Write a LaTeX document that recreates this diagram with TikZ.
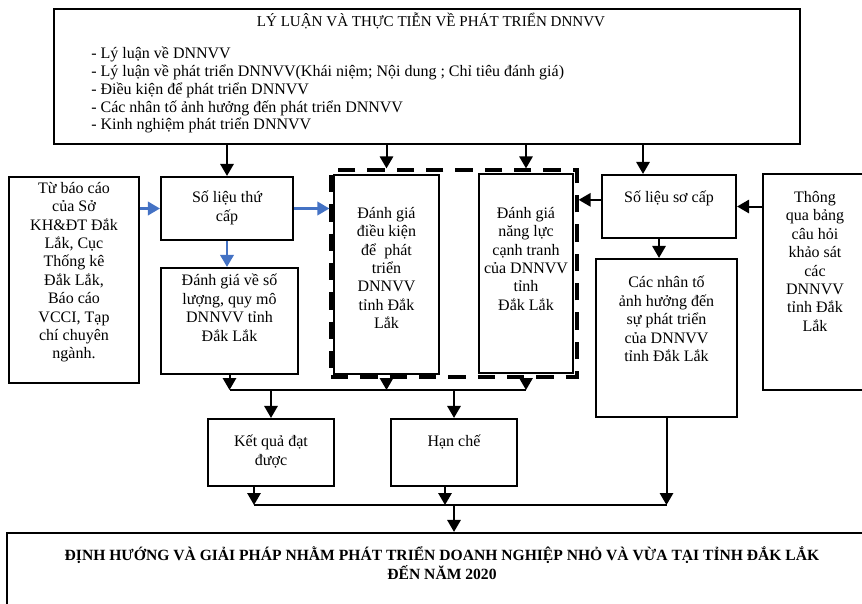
\documentclass[tikz,border=0pt]{standalone}
\usepackage{fontspec}
\setmainfont{Liberation Serif}
\usepackage{xcolor}
\usetikzlibrary{arrows.meta, positioning}
\definecolor{xanh}{RGB}{68,114,196}

\begin{document}
\begin{tikzpicture}[x=0.75pt, y=-0.75pt, >={Triangle[width=10pt,length=9pt]},
    hop/.style={draw, line width=1.6pt, inner sep=0pt},
    chu/.style={inner sep=0pt, align=center, font=\fontsize{12}{13.8}\selectfont},
    noi/.style={line width=1.5pt},
    noixanh/.style={line width=1.9pt, draw=xanh}]
    \useasboundingbox (0,0) rectangle (862,603);
    \clip (0,0) rectangle (862,603);

    % Khung lý luận
    \node[hop, minimum width=559.5pt, minimum height=101.25pt] (lyluan) at (427,76.5) {};
    \node[chu, anchor=north, font=\fontsize{11.3}{13}\selectfont] (lyluan-t) at (431,13) {LÝ LUẬN VÀ THỰC TIỄN VỀ PHÁT TRIỂN DNNVV};
    \node[chu, anchor=north west, align=left, font=\fontsize{12}{13.3}\selectfont] (lyluan-ds) at (91,47)
        {- Lý luận về DNNVV\\
         - Lý luận về phát triển DNNVV(Khái niệm; Nội dung ; Chỉ tiêu đánh giá)\\
         - Điều kiện để phát triển DNNVV\\
         - Các nhân tố ảnh hưởng đến phát triển DNNVV\\
         - Kinh nghiệm phát triển DNNVV};

    % Hàng giữa
    \node[hop, dashed, dash pattern=on 13pt off 9pt, line width=2.4pt,
        minimum width=184.5pt, minimum height=155.25pt] (khung) at (454,273.5) {};
    \node[hop, minimum width=97.5pt, minimum height=154.5pt] (baocao) at (74,280) {};
    \node[chu, anchor=north] (baocao-t) at (74,182) {Từ báo cáo\\của Sở\\KH\&ĐT Đắk\\Lắk, Cục\\Thống kê\\Đắk Lắk,\\Báo cáo\\VCCI, Tạp\\chí chuyên\\ngành.};
    \node[hop, minimum width=99pt, minimum height=47.25pt] (sltc) at (227,208.5) {};
    \node[chu, anchor=north] (sltc-t) at (227,191) {Số liệu thứ\\cấp};
    \node[hop, minimum width=102.75pt, minimum height=79.5pt] (dgsl) at (229.5,321) {};
    \node[chu, anchor=north] (dgsl-t) at (229.5,274) {Đánh giá về số\\lượng, quy mô\\DNNVV tỉnh\\Đắk Lắk};
    \node[hop, minimum width=78.75pt, minimum height=149.25pt] (dgdk) at (386.5,274.5) {};
    \node[chu, anchor=north] (dgdk-t) at (386.5,207) {Đánh giá\\điều kiện\\để\ \ phát\\triển\\DNNVV\\tỉnh Đắk\\Lắk};
    \node[hop, minimum width=70.5pt, minimum height=149.25pt] (dgnl) at (526,273.5) {};
    \node[chu, anchor=north] (dgnl-t) at (526,207) {Đánh giá\\năng lực\\cạnh tranh\\của DNNVV\\tỉnh\\Đắk Lắk};
    \node[hop, minimum width=100.5pt, minimum height=47.25pt] (slsc) at (669,206.5) {};
    \node[chu, anchor=north] (slsc-t) at (669,191) {Số liệu sơ cấp};
    \node[hop, minimum width=105.75pt, minimum height=118.5pt] (nhanto) at (666.5,338) {};
    \node[chu, anchor=north] (nhanto-t) at (666.5,276) {Các nhân tố\\ảnh hưởng đến\\sự phát triển\\của DNNVV\\tỉnh Đắk Lắk};
    \node[hop, minimum width=78pt, minimum height=162pt] (thongqua) at (815,282) {};
    \node[chu, anchor=north] (thongqua-t) at (815,191) {Thông\\qua bảng\\câu hỏi\\khảo sát\\các\\DNNVV\\tỉnh Đắk\\Lắk};

    % Kết quả, hạn chế
    \node[hop, minimum width=94.5pt, minimum height=50.25pt] (kq) at (271,452.5) {};
    \node[chu, anchor=north] (kq-t) at (271,435) {Kết quả đạt\\được};
    \node[hop, minimum width=94.5pt, minimum height=50.25pt] (hanche) at (454,452.5) {};
    \node[chu, anchor=north] (hanche-t) at (454,435) {Hạn chế};

    % Định hướng
    \node[hop, minimum width=669.75pt, minimum height=80.25pt] (dinhhuong) at (453.5,586.5) {};
    \node[chu, anchor=north, font=\bfseries\fontsize{11.7}{14.25}\selectfont] (dinhhuong-t) at (442,546)
        {ĐỊNH HƯỚNG VÀ GIẢI PHÁP NHẰM PHÁT TRIỂN DOANH NGHIỆP NHỎ VÀ VỪA TẠI TỈNH ĐẮK LẮK\\ĐẾN NĂM 2020};

    \coordinate (r1) at (0,390);
    \coordinate (r2) at (0,505);

    % Mũi tên từ khung lý luận
    \draw[noi, ->] (lyluan.south -| sltc.north) -- (sltc.north);
    \draw[noi, ->] (lyluan.south -| dgdk.north) -- (khung.north -| dgdk.north);
    \draw[noi, ->] (lyluan.south -| dgnl.north) -- (khung.north -| dgnl.north);
    \draw[noi, ->] ([xshift=-19.5pt]lyluan.south -| slsc.north) -- ([xshift=-19.5pt]slsc.north);

    % Số liệu thứ cấp (xanh)
    \draw[noixanh, ->] (baocao.east |- sltc.west) -- (sltc.west);
    \draw[noixanh, ->] (sltc.east) -- (khung.west |- sltc.east);
    \draw[noixanh, ->] (sltc.south) -- (sltc.south |- dgsl.north);

    % Số liệu sơ cấp
    \draw[noi, ->] ([yshift=5pt]slsc.west) -- ([yshift=5pt]khung.east |- slsc.west);
    \draw[noi, ->] (thongqua.west |- slsc.east) -- (slsc.east);
    \draw[noi, ->] ([xshift=-7.5pt]slsc.south) -- ([xshift=-7.5pt]slsc.south |- nhanto.north);

    % Gom về kết quả, hạn chế
    \draw[noi, ->] (dgsl.south) -- (dgsl.south |- r1);
    \draw[noi, ->] (khung.south -| dgdk.south) -- (r1 -| dgdk.south);
    \draw[noi, ->] (khung.south -| dgnl.south) -- (r1 -| dgnl.south);
    \draw[noi] (r1 -| dgsl.south) -- (r1 -| dgnl.south);
    \draw[noi, ->] (r1 -| kq.north) -- (kq.north);
    \draw[noi, ->] (r1 -| hanche.north) -- (hanche.north);

    % Gom về định hướng
    \draw[noi, ->] ([xshift=-12.75pt]kq.south) -- ([xshift=-12.75pt]kq.south |- r2);
    \draw[noi, ->] ([xshift=-6.75pt]hanche.south) -- ([xshift=-6.75pt]hanche.south |- r2);
    \draw[noi, ->] (nhanto.south) -- (nhanto.south |- r2);
    \draw[noi] ([xshift=-12.75pt]kq.south |- r2) -- (nhanto.south |- r2);
    \draw[noi, ->] (r2 -| hanche.south) -- (dinhhuong.north -| hanche.south);
\end{tikzpicture}
\end{document}
